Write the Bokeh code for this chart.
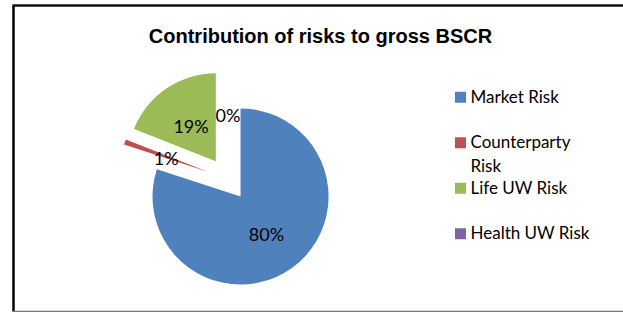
import numpy as np
from bokeh.plotting import figure
from bokeh.models import ColumnDataSource, Range1d
from bokeh.core.properties import value
from bokeh.embed import file_html
from bokeh.resources import INLINE

# ---- data ----
categories = ["Market Risk", "Counterparty Risk", "Life UW Risk", "Health UW Risk"]
legend_labels = ["Market Risk", "Counterparty\nRisk", "Life UW Risk", "Health UW Risk"]
shares = [80, 1, 19, 0]
colors = ["#4F81BD", "#C0504D", "#9BBB59", "#8064A2"]
title_text = "Contribution of risks to gross BSCR"

W, H = 623, 312
p = figure(width=W, height=H, output_backend="svg", toolbar_location=None,
           x_range=Range1d(0, W), y_range=Range1d(0, H), min_border=0)
p.axis.visible = False
p.grid.visible = False
p.outline_line_color = None
p.background_fill_color = "white"
p.border_fill_color = "white"


def sx(px):
    return px


def sy(py):
    return H - py


# chart border
p.segment(x0=[sx(13)], y0=[sy(5)], x1=[sx(13)], y1=[sy(311)], line_color="black", line_width=2.5)
p.segment(x0=[sx(12)], y0=[sy(5)], x1=[sx(640)], y1=[sy(5)], line_color="#111111", line_width=2.5)
p.segment(x0=[sx(12)], y0=[sy(311)], x1=[sx(640)], y1=[sy(311)], line_color="#777777", line_width=1.5)

# pie geometry
cx, cy = sx(227.4), sy(178.6)
r = 88
explode = 21.5

vals = np.array(shares, dtype=float)
frac = vals / vals.sum()
cum = np.concatenate([[0], np.cumsum(frac)])
t1 = cum[:-1] * 2 * np.pi
t2 = cum[1:] * 2 * np.pi
mid = (t1 + t2) / 2
dx, dy = np.sin(mid), np.cos(mid)

mask = vals > 0
wsrc = ColumnDataSource(dict(
    x=(cx + explode * dx)[mask], y=(cy + explode * dy)[mask],
    start=(np.pi / 2 - t2)[mask], end=(np.pi / 2 - t1)[mask],
    color=[c for c, m in zip(colors, mask) if m]))
p.wedge(x="x", y="y", radius=r, start_angle="start", end_angle="end",
        direction="anticlock", fill_color="color", line_color=None, source=wsrc)

lr = explode + 0.5 * r
lsrc = ColumnDataSource(dict(x=cx + lr * dx, y=cy + lr * dy - 1.5,
                             t=[f"{round(f * 100)}%" for f in frac]))
p.text(x="x", y="y", text="t", source=lsrc, text_font=value("Lato"),
       text_font_size="18px", text_align="center", text_baseline="middle", text_color="black")

# title
p.text(x=[sx(320)], y=[sy(35)], text=[title_text], text_font=value("Liberation Sans"),
       text_font_style="bold", text_font_size="20px", text_align="center",
       text_baseline="middle", text_color="black")

# legend
n = len(categories)
ly = np.array([sy(96.7) - i * 45.5 for i in range(n)])
p.rect(x=[sx(460)] * n, y=ly, width=11, height=11, fill_color=colors, line_color=None)
tsrc = ColumnDataSource(dict(x=[sx(470)] * n, y=ly + 11.5, t=legend_labels))
p.text(x="x", y="y", text="t", source=tsrc, text_font=value("Lato"),
       text_font_size="17px", text_align="left", text_baseline="top",
       text_line_height=1.15, text_color="black")

open("out.html", "w").write(file_html(p, INLINE))
